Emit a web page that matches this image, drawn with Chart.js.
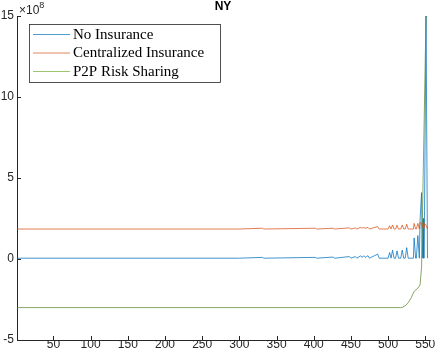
<!DOCTYPE html>
<html>
<head>
<meta charset="utf-8">
<script src="https://cdn.jsdelivr.net/npm/chart.js@4"></script>
<style>
  html, body { margin: 0; padding: 0; background: #fff; }
</style>
</head>
<body>
<canvas id="nyChart" width="436" height="360"></canvas>
<script>
// values in units of 1e8, x = sample index
const noInsX = [1, 300, 331, 333, 402, 404, 426, 428, 448, 450, 456, 458, 463, 465, 467, 469, 471, 473, 475, 486, 488, 500, 502, 504, 506, 508, 510, 512, 514, 517, 519, 521, 523, 525, 527, 534, 535, 537, 538, 540, 542, 543, 545, 546, 547, 548, 549, 551, 553];
const noInsY = [0.05, 0.05, 0.1, 0.05, 0.1, 0.05, 0.12, 0.05, 0.15, 0.05, 0.15, 0.05, 0.2, 0.1, 0.2, 0.1, 0.15, 0.2, 0.05, 0.3, 0.05, 0.05, 0.4, 0.05, 0.55, 0.05, 0.05, 0.5, 0.05, 0.05, 0.55, 0.05, 0.05, 0.7, 0.05, 0.05, 1.3, 0.05, 0.05, 1.45, 0.05, 2.4, 4.1, 0.05, 2.5, 0.05, 3.0, 15, 0.05];
const centralY = [1.85, 1.85, 1.9, 1.85, 1.9, 1.85, 1.9, 1.85, 1.92, 1.85, 1.92, 1.85, 1.95, 1.9, 1.95, 1.9, 1.92, 1.95, 1.85, 2.0, 1.85, 1.85, 2.05, 1.85, 2.1, 1.85, 1.85, 2.08, 1.85, 1.85, 2.1, 1.85, 1.85, 2.15, 1.85, 1.85, 2.2, 1.85, 1.85, 2.2, 1.85, 2.25, 2.2, 1.9, 2.2, 1.9, 2.2, 2.1, 1.85];
const p2pX = [1, 517, 520, 524, 527, 531, 535, 540, 543, 545, 551, 553];
const p2pY = [-3, -3, -2.97, -2.85, -2.7, -2.4, -2.0, -1.8, -1.6, -0.5, 15, 15];

const seriesNames = ['No Insurance', 'Centralized Insurance', 'P2P Risk Sharing'];
const seriesColors = ['#0072BD', '#D95319', '#77AC30'];
const lineColors = ['#0072BD', '#D95319', '#5f8a35'];
const xTicks = [50, 100, 150, 200, 250, 300, 350, 400, 450, 500, 550];
const yTicks = [-5, 0, 5, 10, 15];

function pairs(xs, ys) {
    return xs.map((x, i) => ({ x: x, y: ys[i] }));
}

// MATLAB style decorations: inward ticks, exponent label, title, legend box
const matlabBits = {
    id: 'matlabBits',
    afterDraw(chart) {
        const ctx = chart.ctx;
        const area = chart.chartArea;
        const xs = chart.scales.x;
        const ys = chart.scales.y;
        ctx.save();

        // inward ticks
        ctx.strokeStyle = '#262626';
        ctx.lineWidth = 1;
        ctx.beginPath();
        xTicks.forEach(v => {
            const px = Math.round(xs.getPixelForValue(v)) + 0.5;
            ctx.moveTo(px, area.bottom);
            ctx.lineTo(px, area.bottom - 4);
        });
        yTicks.forEach(v => {
            const py = Math.round(ys.getPixelForValue(v)) + 0.5;
            ctx.moveTo(area.left, py);
            ctx.lineTo(area.left + 4, py);
        });
        ctx.stroke();

        // exponent
        ctx.fillStyle = '#262626';
        ctx.textBaseline = 'alphabetic';
        ctx.textAlign = 'left';
        ctx.font = '12px "Liberation Sans", Arial, sans-serif';
        ctx.fillText('\u00d710', 19, 14);
        const w = ctx.measureText('\u00d710').width;
        ctx.font = '9px "Liberation Sans", Arial, sans-serif';
        ctx.fillText('8', 19 + w, 8);

        // title
        ctx.font = 'bold 12px "Liberation Sans", Arial, sans-serif';
        ctx.textAlign = 'center';
        ctx.fillStyle = '#000';
        ctx.fillText('NY', (area.left + area.right) / 2, 10);

        // legend
        const boxL = 29.5, boxT = 24.5, boxW = 191, boxH = 58;
        ctx.fillStyle = '#fff';
        ctx.fillRect(boxL, boxT, boxW, boxH);
        ctx.strokeStyle = '#262626';
        ctx.lineWidth = 0.8;
        ctx.strokeRect(boxL, boxT, boxW, boxH);
        ctx.font = '15px "Liberation Serif", "Times New Roman", serif';
        ctx.textAlign = 'left';
        ctx.textBaseline = 'middle';
        seriesNames.forEach((name, i) => {
            const rowY = 34 + i * 18.5;
            ctx.strokeStyle = seriesColors[i];
            ctx.lineWidth = 0.7;
            ctx.beginPath();
            ctx.moveTo(33, rowY + 0.5);
            ctx.lineTo(70, rowY + 0.5);
            ctx.stroke();
            ctx.fillStyle = '#000';
            ctx.fillText(name, 73, rowY + 1);
        });
        ctx.restore();
    }
};

const ctx = document.getElementById('nyChart').getContext('2d');
new Chart(ctx, {
    type: 'line',
    data: {
        datasets: [
            { label: seriesNames[0], data: pairs(noInsX, noInsY), borderColor: lineColors[0], order: 2 },
            { label: seriesNames[1], data: pairs(noInsX, centralY), borderColor: lineColors[1], order: 1 },
            { label: seriesNames[2], data: pairs(p2pX, p2pY), borderColor: lineColors[2], order: 0 }
        ]
    },
    options: {
        responsive: false,
        animation: false,
        layout: { padding: { top: 16, right: 7, left: 0, bottom: 0 } },
        elements: {
            line: { borderWidth: 0.75, tension: 0 },
            point: { radius: 0 }
        },
        plugins: {
            legend: { display: false },
            title: { display: false },
            tooltip: { enabled: false }
        },
        scales: {
            x: {
                type: 'linear',
                min: 1,
                max: 555,
                grid: { drawOnChartArea: false, drawTicks: false },
                border: { display: true, color: '#262626', width: 1 },
                ticks: {
                    color: '#262626',
                    padding: -3,
                    maxRotation: 0,
                    font: { family: '"Liberation Sans", Arial, sans-serif', size: 12 }
                },
                afterBuildTicks: scale => { scale.ticks = xTicks.map(v => ({ value: v })); },
                afterFit: scale => { scale.height = 20; }
            },
            y: {
                min: -5,
                max: 15,
                grid: { drawOnChartArea: false, drawTicks: false },
                border: { display: true, color: '#262626', width: 1 },
                ticks: {
                    color: '#262626',
                    padding: 3,
                    font: { family: '"Liberation Sans", Arial, sans-serif', size: 12 }
                },
                afterBuildTicks: scale => { scale.ticks = yTicks.map(v => ({ value: v })); },
                afterFit: scale => { scale.width = 17; }
            }
        }
    },
    plugins: [matlabBits]
});
</script>
</body>
</html>
